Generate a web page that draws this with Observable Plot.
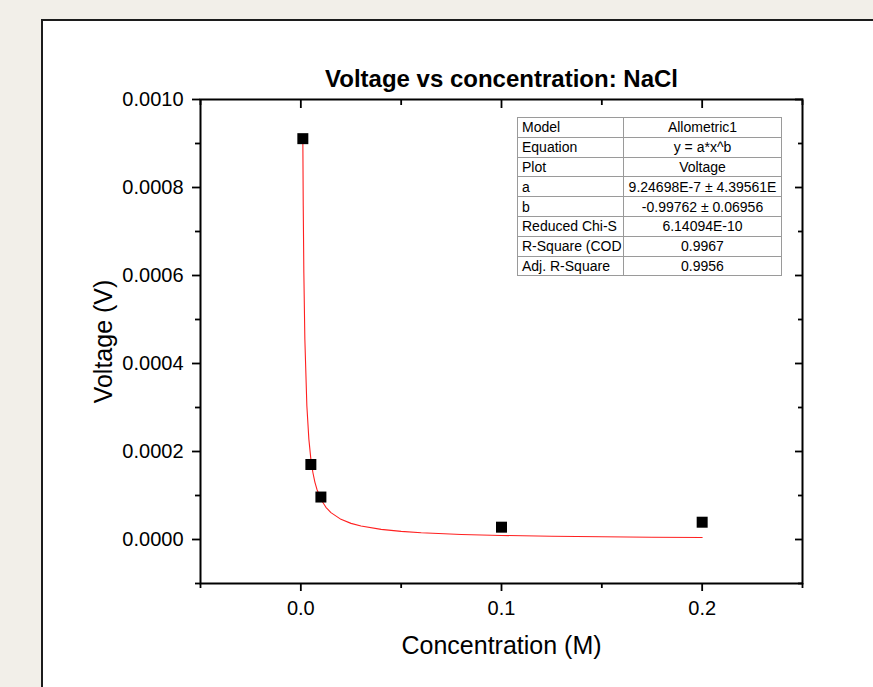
<!DOCTYPE html>
<html>
<head>
<meta charset="utf-8">
<script src="https://cdn.jsdelivr.net/npm/d3@7"></script>
<script src="https://cdn.jsdelivr.net/npm/@observablehq/plot@0.6"></script>
<style>
  html, body { margin: 0; padding: 0; background: #f2efe9; }
  #wrap { position: relative; width: 873px; height: 687px; overflow: hidden; font-family: "Liberation Sans", Arial, sans-serif; }
  #panel { position: absolute; left: 41px; top: 19px; width: 900px; height: 720px; background: #fff; border: 2px solid #1c1c1c; }
  #chart { position: absolute; left: 0; top: 0; }
  #stats { position: absolute; left: 517px; top: 117px; width: 264px; table-layout: fixed; border-collapse: collapse; background: #fff; font-size: 14px; line-height: 1; color: #000; }
  #stats td { border: 1px solid #9a9a9a; height: 18.8px; padding: 0 4px; white-space: nowrap; overflow: hidden; }
  #stats td.v { text-align: center; padding: 0 1px; }
</style>
</head>
<body>
<div id="wrap">
  <div id="panel"></div>
  <div id="chart"></div>
  <table id="stats"><colgroup><col style="width:106px"><col style="width:158px"></colgroup><tbody></tbody></table>
</div>
<script>
// Data
const concentration = [0.001, 0.005, 0.01, 0.1, 0.2];
const voltage = [0.000911, 0.0001705, 0.0000965, 0.000028, 0.0000393];

// Allometric1 fit curve
const fitConcentration = [0.001, 0.0012, 0.0015, 0.002, 0.003, 0.004, 0.005, 0.006, 0.007, 0.008, 0.01, 0.0125, 0.015, 0.02, 0.025, 0.03, 0.04, 0.05, 0.06, 0.08, 0.1, 0.125, 0.15, 0.175, 0.2];
const fitVoltage = [0.0009096, 0.0007584, 0.000607, 0.0004556, 0.000304, 0.00022816, 0.00018262, 0.00015225, 0.00013055, 0.00011427, 0.00009146, 0.00007321, 0.00006103, 0.00004581, 0.00003666, 0.00003057, 0.00002294, 0.00001836, 0.00001531, 0.00001149, 0.000009196, 0.000007361, 0.000006137, 0.000005262, 0.000004606];

const xMajorTicks = [0, 0.1, 0.2];
const xMinorTicks = [-0.05, 0.05, 0.15, 0.25];
const yMajorTicks = [0, 0.0002, 0.0004, 0.0006, 0.0008, 0.001];
const yMinorTicks = [-0.0001, 0.0001, 0.0003, 0.0005, 0.0007, 0.0009];

const titleText = "Voltage vs concentration: NaCl";
const xLabel = "Concentration (M)";
const yLabel = "Voltage (V)";

const tableLabels = ["Model", "Equation", "Plot", "a", "b", "Reduced Chi-S", "R-Square (COD", "Adj. R-Square"];
const tableValues = ["Allometric1", "y = a*x^b", "Voltage", "9.24698E-7 ± 4.39561E", "-0.99762 ± 0.06956", "6.14094E-10", "0.9967", "0.9956"];

const points = concentration.map((c, i) => ({x: c, y: voltage[i]}));
const fit = fitConcentration.map((c, i) => ({x: c, y: fitVoltage[i]}));

const font = "Liberation Sans, Arial, sans-serif";
const blank = () => "";

const chart = Plot.plot({
  width: 873,
  height: 687,
  marginLeft: 200,
  marginRight: 71,
  marginTop: 99,
  marginBottom: 104,
  style: {background: "transparent", fontFamily: font, color: "#000"},
  x: {domain: [-0.05, 0.25]},
  y: {domain: [-0.0001, 0.001]},
  marks: [
    Plot.line(fit, {x: "x", y: "y", stroke: "#ff2020", strokeWidth: 1.1}),
    Plot.dot(points, {x: "x", y: "y", symbol: "square", r: 6.2, fill: "#000", stroke: "none"}),
    // left axis
    Plot.axisY(yMajorTicks, {anchor: "left", tickSize: 8, tickPadding: 9, tickFormat: d3.format(".4f"), fontSize: 20, strokeWidth: 1.8, label: null}),
    Plot.axisY(yMinorTicks, {anchor: "left", tickSize: 5, tickFormat: blank, strokeWidth: 1.8, label: null}),
    // right axis (inward)
    Plot.axisY(yMajorTicks, {anchor: "right", tickSize: 8, dx: -8, tickFormat: blank, strokeWidth: 1.8, label: null}),
    Plot.axisY(yMinorTicks, {anchor: "right", tickSize: 5, dx: -5, tickFormat: blank, strokeWidth: 1.8, label: null}),
    // bottom axis
    Plot.axisX(xMajorTicks, {anchor: "bottom", tickSize: 8, tickPadding: 9, tickFormat: d3.format(".1f"), fontSize: 20, strokeWidth: 1.8, label: null}),
    Plot.axisX(xMinorTicks, {anchor: "bottom", tickSize: 5, tickFormat: blank, strokeWidth: 1.8, label: null}),
    // top axis (inward)
    Plot.axisX(xMajorTicks, {anchor: "top", tickSize: 8, dy: 8, tickFormat: blank, strokeWidth: 1.8, label: null}),
    Plot.axisX(xMinorTicks, {anchor: "top", tickSize: 5, dy: 5, tickFormat: blank, strokeWidth: 1.8, label: null}),
    Plot.frame({stroke: "#000", strokeWidth: 2}),
    Plot.text([titleText], {text: d => d, frameAnchor: "top", dy: -20, lineAnchor: "middle", textAnchor: "middle", fontSize: 24, fontWeight: "bold", fill: "#000"}),
    Plot.text([xLabel], {text: d => d, frameAnchor: "bottom", dy: 62, lineAnchor: "middle", textAnchor: "middle", fontSize: 25, fill: "#000"}),
    Plot.text([yLabel], {text: d => d, frameAnchor: "left", dx: -97, rotate: -90, lineAnchor: "middle", textAnchor: "middle", fontSize: 25, fill: "#000"})
  ]
});
document.getElementById("chart").appendChild(chart);

const tbody = document.querySelector("#stats tbody");
tableLabels.forEach((lab, i) => {
  const tr = document.createElement("tr");
  const td1 = document.createElement("td");
  td1.textContent = lab;
  const td2 = document.createElement("td");
  td2.className = "v";
  td2.textContent = tableValues[i];
  tr.appendChild(td1);
  tr.appendChild(td2);
  tbody.appendChild(tr);
});
</script>
</body>
</html>
